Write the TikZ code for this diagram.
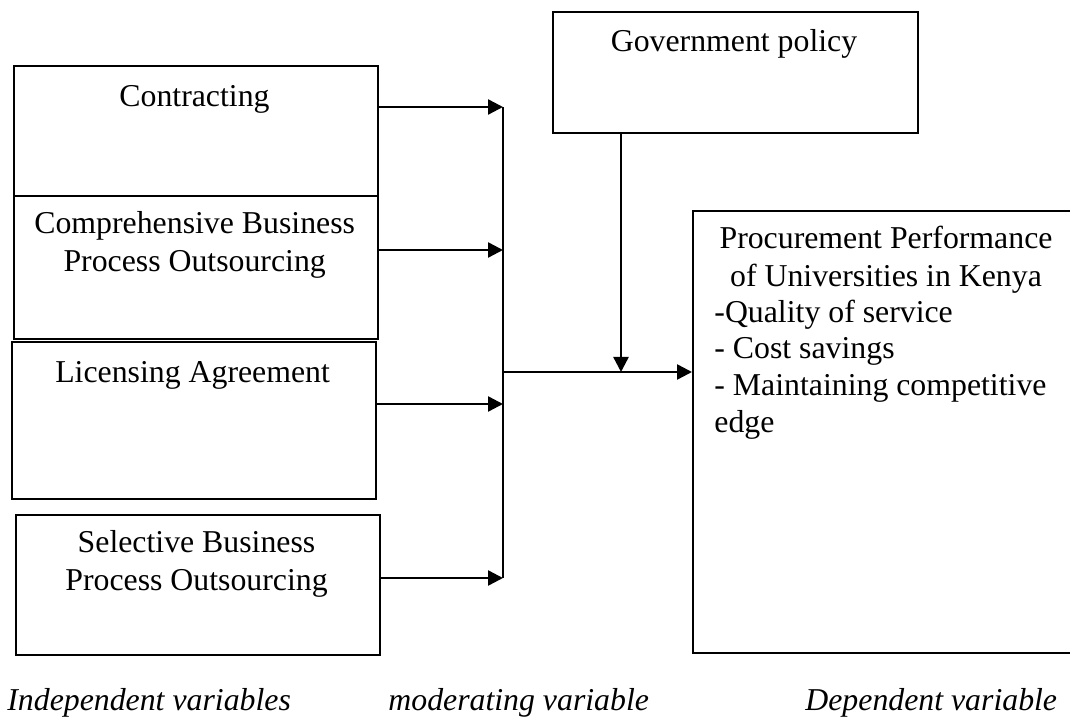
\documentclass[tikz,border=0pt]{standalone}
\usepackage{fontspec}
\setmainfont{Liberation Serif}
\usetikzlibrary{arrows.meta}
\begin{document}
\begin{tikzpicture}[x=0.5pt,y=-0.5pt,
  box/.style={draw=black,line width=1pt,inner sep=0pt,anchor=north west},
  txt/.style={inner sep=0pt,anchor=base,align=center,font=\fontsize{15.9}{19}\selectfont},
  ltxt/.style={inner sep=0pt,anchor=base west,align=left,font=\fontsize{15.9}{18.3}\selectfont},
  itxt/.style={inner sep=0pt,anchor=base west,font=\fontsize{15.9}{19}\selectfont\itshape},
  arr/.style={line width=1.2pt,-{Triangle[length=7.5pt,width=7.5pt]}},
  ln/.style={line width=1pt}]
\useasboundingbox (0,0) rectangle (1070,721);
% boxes
\node[box,minimum width=182.3pt,minimum height=65pt] (con) at (12.7,65) {};
\node[box,minimum width=182.3pt,minimum height=71.3pt] (cbp) at (12.7,195) {};
\node[box,minimum width=182pt,minimum height=78.5pt] (lic) at (11,341) {};
\node[box,minimum width=182.2pt,minimum height=70pt] (sbp) at (14.7,514) {};
\node[box,minimum width=182.5pt,minimum height=60.5pt] (gov) at (552,11) {};
\node[box,minimum width=193pt,minimum height=221pt] (pp) at (692,210) {};
% texts (base anchor = baseline of the last line)
\node[txt] (tcon) at (194.5,107) {Contracting};
\node[txt] (tcbp) at (194.7,272) {Comprehensive Business\\Process Outsourcing};
\node[txt] (tlic) at (192.6,382) {Licensing Agreement};
\node[txt] (tsbp) at (196.5,590) {Selective Business\\Process Outsourcing};
\node[txt] (tgov) at (734,52) {Government policy};
\node[txt] (tpp) at (886,287) {Procurement Performance\\of Universities in Kenya};
\node[ltxt] (tlist) at (714,432) {-Quality of service\\- Cost savings\\- Maintaining competitive\\edge};
\node[itxt] (lind) at (7,710) {Independent variables};
\node[itxt] (lmod) at (388,710) {moderating variable};
\node[itxt] (ldep) at (805,710) {Dependent variable};
% junction coordinates
\coordinate (v1) at (503,107);
\coordinate (v2) at (503,250);
\coordinate (v3) at (503,404);
\coordinate (v4) at (503,578);
\coordinate (jn) at (503,372);
\coordinate (gx) at (621,372);
% connectors
\draw[arr] (con.east |- v1) -- (v1);
\draw[arr] (cbp.east |- v2) -- (v2);
\draw[arr] (lic.east |- v3) -- (v3);
\draw[arr] (sbp.east |- v4) -- (v4);
\draw[ln] (v1) -- (v4);
\draw[arr] (jn) -- (pp.west |- jn);
\draw[arr] (gov.south -| gx) -- (gx);
\end{tikzpicture}
\end{document}
